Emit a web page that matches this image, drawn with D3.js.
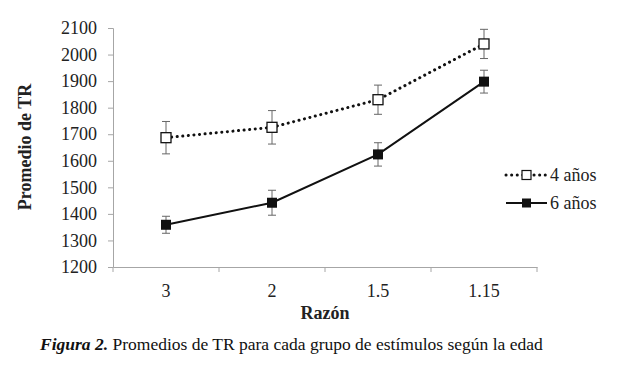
<!DOCTYPE html>
<html><head><meta charset="utf-8">
<script src="https://cdn.jsdelivr.net/npm/d3@7"></script>
<style>body{margin:0;background:#fff}svg{display:block}</style>
</head><body>
<script>
const categories = ["3", "2", "1.5", "1.15"];
const seriesNames = ["4 años", "6 años"];
const values4 = [1687, 1726, 1830, 2040];
const err4 = [61, 63, 55, 55];
const values6 = [1359, 1442, 1624, 1898];
const err6 = [32, 47, 44, 43];
const yTicks = [1200,1300,1400,1500,1600,1700,1800,1900,2000,2100];

const W = 617, H = 366;
const svg = d3.select("body").append("svg").attr("width", W).attr("height", H);
const serif = "'Liberation Serif','Times New Roman',serif";
const fs = 18;

const x = d3.scaleBand().domain(categories).range([113, 537]).padding(0);
const y = d3.scaleLinear().domain([1200, 2100]).range([267, 28]);
const axisColor = "#a6a6a6";

// Y axis
const yAxis = svg.append("g").attr("transform", "translate(113,0)")
  .call(d3.axisLeft(y).tickValues(yTicks).tickSize(5).tickPadding(11).tickFormat(d3.format("d")));
yAxis.select(".domain").attr("stroke", axisColor);
yAxis.selectAll(".tick line").attr("stroke", axisColor);
yAxis.selectAll("text").attr("font-family", serif).attr("font-size", fs).attr("fill", "#222");

// X axis
const xAxis = svg.append("g").attr("transform", "translate(0,267)")
  .call(d3.axisBottom(x).tickSize(0).tickPadding(17));
xAxis.select(".domain").attr("stroke", axisColor);
xAxis.selectAll("text").attr("font-family", serif).attr("font-size", fs).attr("fill", "#222");
// tick marks at band boundaries
const bounds = categories.map(c => x(c) + x.bandwidth());
svg.append("g").selectAll("line").data([x(categories[0])].concat(bounds)).join("line")
  .attr("x1", d => d).attr("x2", d => d).attr("y1", 267).attr("y2", 272)
  .attr("stroke", axisColor);

// Axis titles
svg.append("text").attr("transform", "translate(31,147) rotate(-90)")
  .attr("text-anchor", "middle").attr("font-family", serif).attr("font-weight", "bold")
  .attr("font-size", fs).attr("fill", "#222").text("Promedio de TR");
svg.append("text").attr("x", 325).attr("y", 319).attr("text-anchor", "middle")
  .attr("font-family", serif).attr("font-weight", "bold").attr("font-size", fs)
  .attr("fill", "#222").text("Razón");

const cx = c => x(c) + x.bandwidth() / 2;

function drawSeries(vals, errs, dotted, filled) {
  const g = svg.append("g");
  categories.forEach((c, i) => {
    const xx = cx(c), top = y(vals[i] + errs[i]), bot = y(vals[i] - errs[i]);
    g.append("line").attr("x1", xx).attr("x2", xx).attr("y1", top).attr("y2", bot).attr("stroke", "#666").attr("stroke-width", 1);
    [top, bot].forEach(yy => g.append("line").attr("x1", xx - 4).attr("x2", xx + 4).attr("y1", yy).attr("y2", yy).attr("stroke", "#666").attr("stroke-width", 1));
  });
  const line = d3.line().x((d, i) => cx(categories[i])).y(d => y(d));
  const p = g.append("path").attr("d", line(vals)).attr("fill", "none").attr("stroke", "#111");
  if (dotted) p.attr("stroke-width", 3).attr("stroke-dasharray", "0.1,5.5").attr("stroke-linecap", "round");
  else p.attr("stroke-width", 2);
  g.selectAll("rect").data(vals).join("rect")
    .attr("x", (d, i) => cx(categories[i]) - 5).attr("y", d => y(d) - 5)
    .attr("width", 10).attr("height", 10)
    .attr("fill", filled ? "#111" : "#fff").attr("stroke", "#111").attr("stroke-width", filled ? 0 : 1.3);
}
drawSeries(values4, err4, true, false);
drawSeries(values6, err6, false, true);

// Legend
const legend = [{name: seriesNames[0], dotted: true, filled: false, y: 175},
                {name: seriesNames[1], dotted: false, filled: true, y: 203}];
legend.forEach(l => {
  const ln = svg.append("line").attr("x1", 506).attr("x2", 547).attr("y1", l.y).attr("y2", l.y).attr("stroke", "#111");
  if (l.dotted) ln.attr("stroke-width", 3).attr("stroke-dasharray", "0.1,5.5").attr("stroke-linecap", "round");
  else ln.attr("stroke-width", 2);
  svg.append("rect").attr("x", 522).attr("y", l.y - 4.5).attr("width", 9).attr("height", 9)
    .attr("fill", l.filled ? "#111" : "#fff").attr("stroke", "#111").attr("stroke-width", l.filled ? 0 : 1.2);
  svg.append("text").attr("x", 550).attr("y", l.y + 6).attr("font-family", serif)
    .attr("font-size", fs).attr("fill", "#222").text(l.name);
});

// Caption
const cap = svg.append("text").attr("x", 40).attr("y", 350).attr("font-family", serif).attr("font-size", 17.5).attr("fill", "#111");
cap.append("tspan").attr("font-weight", "bold").attr("font-style", "italic").text("Figura 2.");
cap.append("tspan").text(" Promedios de TR para cada grupo de estímulos según la edad");
</script>
</body></html>
